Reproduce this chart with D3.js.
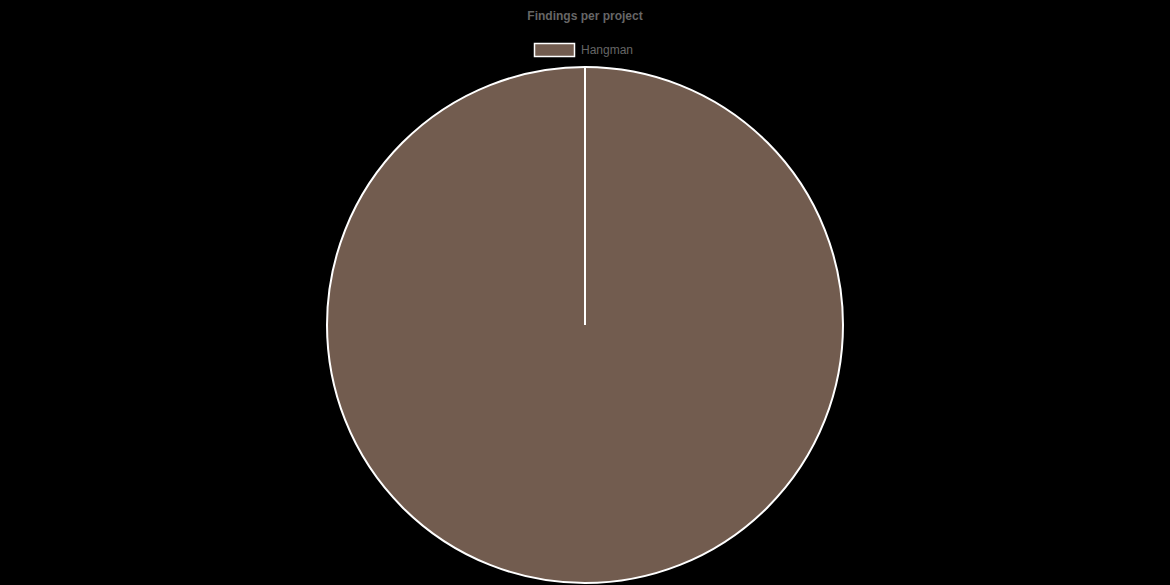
<!DOCTYPE html>
<html>
<head>
<meta charset="utf-8">
<script src="https://cdn.jsdelivr.net/npm/d3@7"></script>
<style>
  html, body { margin: 0; padding: 0; background: #000; }
  svg { display: block; }
</style>
</head>
<body>
<svg id="canvas" width="1170" height="585"></svg>
<script>
let projects = ['Hangman'];
let findings = [1];
let colors = ['#725c4f'];

let width = 1170;
let height = 585;
let canvas = d3.select('#canvas');
let font = '"Liberation Sans", Arial, Helvetica, sans-serif';

// title
canvas
  .append('text')
  .text('Findings per project')
  .attr('x', width / 2)
  .attr('y', 16)
  .attr('text-anchor', 'middle')
  .attr('dominant-baseline', 'central')
  .attr('font-family', font)
  .attr('font-size', 12)
  .attr('font-weight', 'bold')
  .attr('fill', '#666');

// legend
let legend = canvas.append('g');
let items = legend
  .selectAll('g')
  .data(projects)
  .enter()
  .append('g');

items
  .append('rect')
  .attr('x', 0.5)
  .attr('y', 43.5)
  .attr('width', 40)
  .attr('height', 13)
  .attr('fill', (d, i) => colors[i])
  .attr('stroke', '#fff')
  .attr('stroke-width', 1.5);

items
  .append('text')
  .text((d) => d)
  .attr('x', 47)
  .attr('y', 50)
  .attr('dominant-baseline', 'central')
  .attr('font-family', font)
  .attr('font-size', 12)
  .attr('fill', '#666');

legend.attr('transform', 'translate(534, 0)');

// pie
let cx = 585;
let cy = 325;
let radius = 258;

let pie = d3.pie().sort(null).value((d) => d);
let arcs = pie(findings);
let arc = d3.arc().innerRadius(0).outerRadius(radius);

let chart = canvas.append('g').attr('transform', 'translate(' + cx + ', ' + cy + ')');

chart
  .selectAll('path')
  .data(arcs)
  .enter()
  .append('path')
  .attr('d', arc)
  .attr('fill', (d, i) => colors[i])
  .attr('stroke', '#fff')
  .attr('stroke-width', 2);

// radial slice edges
chart
  .selectAll('line')
  .data(arcs)
  .enter()
  .append('line')
  .attr('x1', 0)
  .attr('y1', 0)
  .attr('x2', (d) => radius * Math.sin(d.startAngle))
  .attr('y2', (d) => -radius * Math.cos(d.startAngle))
  .attr('stroke', '#fff')
  .attr('stroke-width', 2);
</script>
</body>
</html>
